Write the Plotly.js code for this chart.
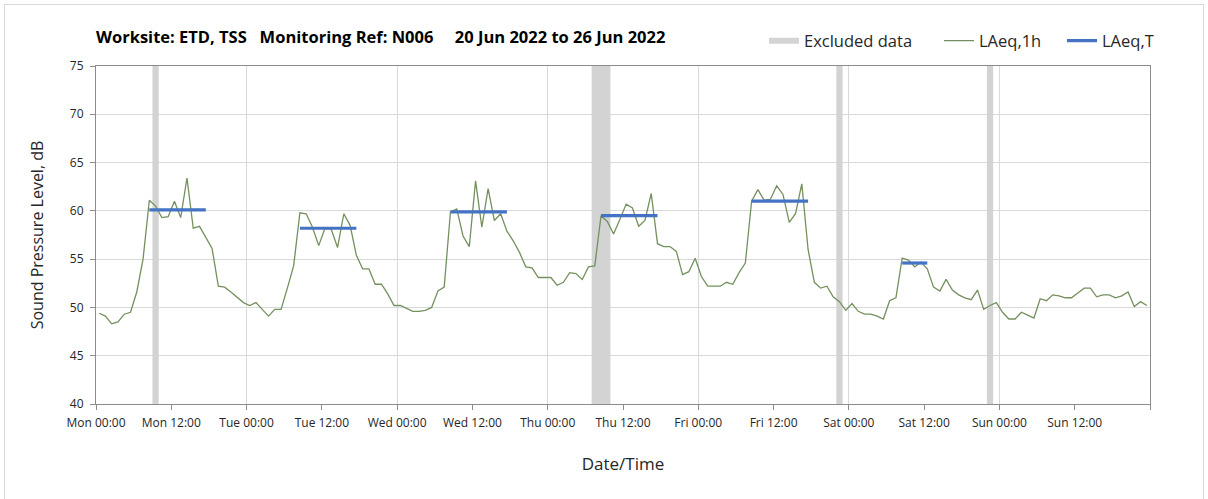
<!DOCTYPE html>
<html>
<head>
<meta charset="utf-8">
<script src="https://cdn.plot.ly/plotly-3.0.1.min.js"></script>
<style>
html, body { margin: 0; padding: 0; background: #ffffff; }
#wrap { position: relative; width: 1208px; height: 499px; overflow: hidden; }
#chart { width: 1208px; height: 499px; }
#frame { position: absolute; left: 4px; top: 4px; width: 1198px; height: 540px; border: 1px solid #d9d9d9; pointer-events: none; }
</style>
</head>
<body>
<div id="wrap"><div id="chart"></div><div id="frame"></div></div>
<script>
// ---- Data ----
const weekStart = [2022, 5, 20]; // Mon 20 Jun 2022 (month is 0-based)

// Hourly LAeq,1h values, Mon 00:00 .. Sun 23:00 (each plotted at the middle of its hour)
const laeq1h = [
  49.4, 49.1, 48.3, 48.5, 49.3, 49.5, 51.6, 55.0, 61.1, 60.5, 59.3, 59.4,
  61.0, 59.3, 63.4, 58.2, 58.4, 57.3, 56.1, 52.2, 52.1, 51.6, 51.0, 50.5,
  50.2, 50.5, 49.8, 49.1, 49.8, 49.8, 52.0, 54.3, 59.8, 59.7, 58.3, 56.4,
  58.2, 58.1, 56.2, 59.7, 58.5, 55.4, 54.0, 54.0, 52.4, 52.4, 51.4, 50.2,
  50.2, 49.9, 49.6, 49.6, 49.7, 50.0, 51.7, 52.1, 59.9, 60.2, 57.4, 56.3,
  63.1, 58.3, 62.3, 59.0, 59.7, 57.9, 56.9, 55.7, 54.2, 54.1, 53.1, 53.1,
  53.1, 52.3, 52.6, 53.6, 53.5, 52.9, 54.2, 54.3, 59.5, 58.9, 57.6, 59.1,
  60.7, 60.3, 58.4, 59.0, 61.8, 56.6, 56.3, 56.3, 55.8, 53.4, 53.7, 55.1,
  53.2, 52.2, 52.2, 52.2, 52.6, 52.4, 53.6, 54.6, 61.0, 62.2, 61.1, 61.2,
  62.6, 61.7, 58.8, 59.7, 62.8, 56.0, 52.6, 52.0, 52.2, 51.1, 50.6, 49.7,
  50.4, 49.6, 49.3, 49.3, 49.1, 48.8, 50.7, 51.0, 55.1, 54.9, 54.2, 54.7,
  54.0, 52.1, 51.7, 52.9, 51.8, 51.3, 51.0, 50.8, 51.8, 49.8, 50.2, 50.5,
  49.5, 48.8, 48.8, 49.5, 49.2, 48.9, 50.9, 50.7, 51.3, 51.2, 51.0, 51.0,
  51.5, 52.0, 52.0, 51.1, 51.3, 51.3, 51.0, 51.2, 51.6, 50.1, 50.6, 50.2
];

// Excluded data periods (hours from Mon 00:00)
const excludedFrom = [9, 79, 118, 142];
const excludedTo   = [10, 82, 119, 143];

// LAeq,T periods (first and last hourly sample, hours from Mon 00:00) and values
const periodFrom = [8, 32, 56, 80, 104, 128];
const periodTo   = [17, 41, 65, 89, 113, 132];
const laeqT      = [60.1, 58.2, 59.9, 59.5, 61.0, 54.6];

// Axis tick labels (every 12 h)
const dayNames = ['Mon', 'Tue', 'Wed', 'Thu', 'Fri', 'Sat', 'Sun'];
const halfDayTimes = ['00:00', '12:00'];

const yMin = 40, yMax = 75;

// ---- Helpers ----
const base = Date.UTC(weekStart[0], weekStart[1], weekStart[2]);
function hourToDate(h) {
  return new Date(base + h * 3600000).toISOString().slice(0, 19).replace('T', ' ');
}

// Green hourly line
const xHourly = laeq1h.map((v, i) => hourToDate(i + 0.5));

// Excluded bands as filled polygons
const exX = [], exY = [];
excludedFrom.forEach((s, i) => {
  const e = excludedTo[i];
  exX.push(hourToDate(s), hourToDate(s), hourToDate(e), hourToDate(e), hourToDate(s), null);
  exY.push(yMin, yMax, yMax, yMin, yMin, null);
});

// LAeq,T segments
const tX = [], tY = [];
periodFrom.forEach((s, i) => {
  tX.push(hourToDate(s + 0.5), hourToDate(periodTo[i] + 0.5), null);
  tY.push(laeqT[i], laeqT[i], null);
});

// Ticks
const tickVals = [], tickText = [];
dayNames.forEach((d, di) => {
  halfDayTimes.forEach((t, ti) => {
    tickVals.push(hourToDate(di * 24 + ti * 12));
    tickText.push(d + ' ' + t);
  });
});
tickVals.push(hourToDate(dayNames.length * 24));
tickText.push('');

const FONT = 'Open Sans, Lato, sans-serif';
const TXT = '#262626';

const traces = [
  {
    type: 'scatter', mode: 'none', x: exX, y: exY, fill: 'toself',
    fillcolor: '#d3d3d3', name: 'Excluded data', legend: 'legend', hoverinfo: 'skip'
  },
  {
    type: 'scatter', mode: 'lines', x: xHourly, y: laeq1h,
    line: { color: '#74905f', width: 1.3 }, name: 'LAeq,1h', legend: 'legend2'
  },
  {
    type: 'scatter', mode: 'lines', x: tX, y: tY,
    line: { color: '#4472c4', width: 3.2 }, name: 'LAeq,T', legend: 'legend3'
  }
];

const legendCommon = {
  orientation: 'h', xanchor: 'left', yanchor: 'middle', y: 1.074,
  font: { family: FONT, size: 16.5, color: TXT }, bgcolor: 'rgba(0,0,0,0)', borderwidth: 0
};

const layout = {
  width: 1208, height: 499,
  paper_bgcolor: '#ffffff', plot_bgcolor: '#ffffff',
  margin: { l: 96, r: 58, t: 66, b: 95 },
  title: {
    text: 'Worksite: ETD, TSS\u00a0\u00a0\u00a0Monitoring Ref: N006\u00a0\u00a0\u00a0\u00a0\u00a020 Jun 2022 to 26 Jun 2022',
    font: { family: FONT, size: 16.5, color: '#000000', weight: 'bold' },
    xref: 'paper', x: 0, xanchor: 'left',
    yref: 'container', y: 1 - 37 / 499, yanchor: 'middle'
  },
  xaxis: {
    type: 'date',
    range: [hourToDate(0), hourToDate(168)],
    tickmode: 'array', tickvals: tickVals, ticktext: tickText,
    ticks: 'outside', ticklen: 5, tickcolor: '#8c8c8c',
    ticklabelstandoff: 3,
    tickfont: { family: FONT, size: 12, color: TXT },
    showgrid: false,
    minor: { dtick: 86400000, tick0: hourToDate(0), showgrid: true, gridcolor: '#d9d9d9', gridwidth: 1, ticks: '' },
    showline: true, linecolor: '#8c8c8c', linewidth: 1, mirror: true,
    zeroline: false,
    title: { text: 'Date/Time', font: { family: FONT, size: 17, color: TXT }, standoff: 27 }
  },
  yaxis: {
    range: [yMin, yMax], dtick: 5, tick0: 40,
    ticks: 'outside', ticklen: 5, tickcolor: '#8c8c8c',
    ticklabelstandoff: 4,
    tickfont: { family: FONT, size: 12, color: TXT },
    showgrid: true, gridcolor: '#d9d9d9', gridwidth: 1,
    showline: true, linecolor: '#8c8c8c', linewidth: 1, mirror: true,
    zeroline: false,
    title: { text: 'Sound Pressure Level, dB', font: { family: FONT, size: 16, color: TXT }, standoff: 22 }
  },
  legend: Object.assign({}, legendCommon, { x: (764 - 96) / 1054 }),
  legend2: Object.assign({}, legendCommon, { x: (939 - 96) / 1054 }),
  legend3: Object.assign({}, legendCommon, { x: (1062 - 96) / 1054 }),
  showlegend: true
};

Plotly.newPlot('chart', traces, layout, { displayModeBar: false, staticPlot: true });
</script>
</body>
</html>
